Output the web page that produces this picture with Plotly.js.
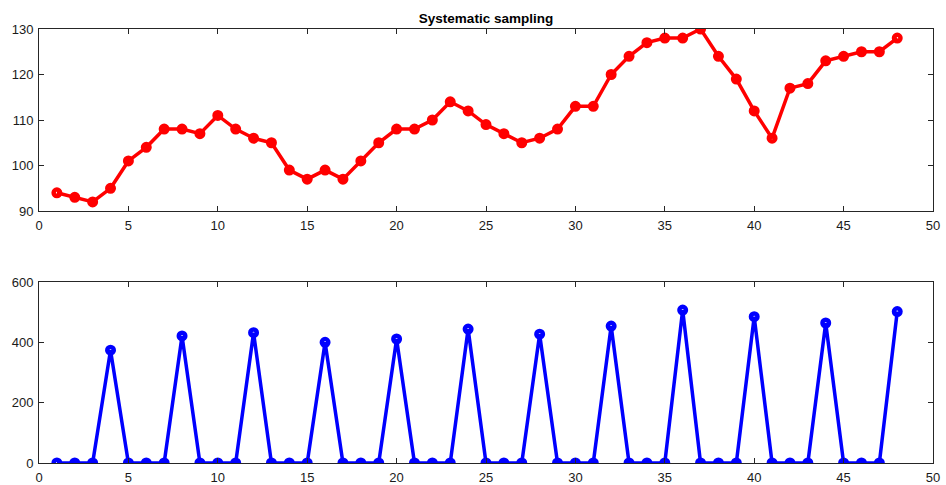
<!DOCTYPE html>
<html>
<head>
<meta charset="utf-8">
<script src="https://cdn.plot.ly/plotly-3.0.1.min.js"></script>
<style>html,body{margin:0;padding:0;background:#fff;}#chart{width:946px;height:485px;}</style>
</head>
<body>
<div id="chart"></div>
<script>
// Sample index (1..48)
const sampleIndex = [1,2,3,4,5,6,7,8,9,10,11,12,13,14,15,16,17,18,19,20,21,22,23,24,
                     25,26,27,28,29,30,31,32,33,34,35,36,37,38,39,40,41,42,43,44,45,46,47,48];
// Top panel: original series
const originalValues = [94,93,92,95,101,104,108,108,107,111,108,106,105,99,97,99,97,101,105,108,108,110,114,112,
                        109,107,105,106,108,113,113,120,124,127,128,128,130,124,119,112,106,117,118,123,124,125,125,128];
// Bottom panel: systematic sampling result
const sampledValues = [0,0,0,374,0,0,0,421,0,0,0,432,0,0,0,400,0,0,0,411,0,0,0,444,
                       0,0,0,427,0,0,0,454,0,0,0,507,0,0,0,485,0,0,0,464,0,0,0,502];
const xTicks = [0,5,10,15,20,25,30,35,40,45,50];
const yTicksTop = [90,100,110,120,130];
const yTicksBottom = [0,200,400,600];
const chartTitle = 'Systematic sampling';

const axisCommon = {
  showgrid:false, zeroline:false, showline:true, mirror:'ticks',
  ticks:'inside', ticklen:5, tickwidth:1, tickcolor:'#262626',
  linecolor:'#262626', linewidth:1,
  tickfont:{family:'Liberation Sans, Arial, sans-serif', size:13, color:'#1a1a1a'}
};

const traces = [
  {x:sampleIndex, y:originalValues, type:'scatter', mode:'lines+markers',
   line:{color:'#ff0000', width:3.5},
   marker:{symbol:'circle-open', size:6.5, color:'#ff0000', line:{color:'#ff0000', width:4.5}},
   xaxis:'x', yaxis:'y', hoverinfo:'x+y'},
  {x:sampleIndex, y:sampledValues, type:'scatter', mode:'lines+markers',
   line:{color:'#0000ff', width:3.5},
   marker:{symbol:'circle-open', size:6.5, color:'#0000ff', line:{color:'#0000ff', width:4.5}},
   xaxis:'x2', yaxis:'y2', hoverinfo:'x+y'}
];

const layout = {
  width:946, height:485,
  margin:{l:39, r:13, t:29, b:22},
  paper_bgcolor:'#ffffff', plot_bgcolor:'#ffffff',
  showlegend:false,
  title:{text:'<b>'+chartTitle+'</b>', font:{family:'Liberation Sans, Arial, sans-serif', size:13.5, color:'#000'},
         x:0.5, xref:'paper', xanchor:'center', y:1-18/485, yref:'container', yanchor:'middle'},
  xaxis:Object.assign({}, axisCommon, {range:[0,50], tickvals:xTicks, anchor:'y', domain:[0,1], ticklabelstandoff:2}),
  yaxis:Object.assign({}, axisCommon, {range:[90,130], tickvals:yTicksTop, domain:[0.5806,1], anchor:'x', ticklabelstandoff:2}),
  xaxis2:Object.assign({}, axisCommon, {range:[0,50], tickvals:xTicks, anchor:'y2', domain:[0,1], ticklabelstandoff:2}),
  yaxis2:Object.assign({}, axisCommon, {range:[0,600], tickvals:yTicksBottom, domain:[0,0.4171], anchor:'x2', ticklabelstandoff:2})
};

Plotly.newPlot('chart', traces, layout, {displayModeBar:false, staticPlot:true});
</script>
</body>
</html>
